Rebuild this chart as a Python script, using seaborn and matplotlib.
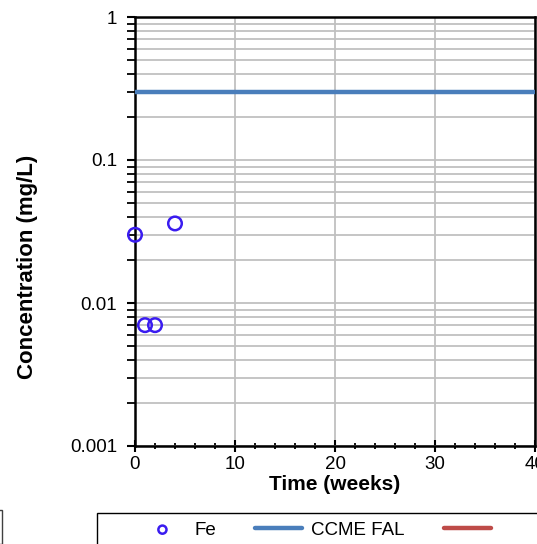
import matplotlib
matplotlib.use('Agg')
import matplotlib.pyplot as plt
import matplotlib.ticker as mticker
from matplotlib.patches import Rectangle
import numpy as np
import pandas as pd
import seaborn as sns

# data
fe_weeks = [0, 1, 2, 4]
fe_conc = [0.030, 0.007, 0.007, 0.036]
fal_weeks = [0, 40]
fal_conc = [0.3, 0.3]

sns.set_style('white')
plt.rcParams['font.family'] = ['Liberation Sans', 'DejaVu Sans']
plt.rcParams.update({'text.color': 'black', 'axes.labelcolor': 'black',
                     'xtick.color': 'black', 'ytick.color': 'black'})

fig = plt.figure(figsize=(5.37, 5.44), dpi=100)
ax = fig.add_axes([135 / 537, 1 - 446 / 544, 400 / 537, 429 / 544])

fe_df = pd.DataFrame({'week': fe_weeks, 'conc': fe_conc})
fal_df = pd.DataFrame({'week': fal_weeks, 'conc': fal_conc})

sns.lineplot(data=fal_df, x='week', y='conc', ax=ax, color='#4a7ebb', linewidth=3.2,
             label='CCME FAL', zorder=3)
sns.scatterplot(data=fe_df, x='week', y='conc', ax=ax, marker='o', s=95,
                facecolor='none', edgecolor='#3a1cf0', linewidth=1.8, label='Fe',
                zorder=4, clip_on=False)
ax.plot([], [], color='#be4b48', linewidth=3.2, label=' ')

ax.set_yscale('log')
ax.set_ylim(0.001, 1)
ax.set_xlim(0, 40)
ax.xaxis.set_major_locator(mticker.MultipleLocator(10))
ax.xaxis.set_minor_locator(mticker.MultipleLocator(2))
ax.yaxis.set_major_locator(mticker.LogLocator(base=10))
ax.yaxis.set_minor_locator(mticker.LogLocator(base=10, subs=np.arange(2, 10)))
ax.yaxis.set_major_formatter(mticker.FuncFormatter(lambda v, p: f'{v:g}'))
ax.yaxis.set_minor_formatter(mticker.NullFormatter())

ax.grid(True, which='major', color='#c0c0c0', linewidth=1.3)
ax.grid(True, which='minor', axis='y', color='#c0c0c0', linewidth=1.3)
ax.set_axisbelow(True)

for s in ax.spines.values():
    s.set_color('black')
    s.set_linewidth(1.8)

ax.tick_params(axis='x', which='major', direction='inout', length=8, width=1.5,
               labelsize=13.5, bottom=True, pad=3)
ax.tick_params(axis='x', which='minor', direction='inout', length=5, width=1.3, bottom=True)
ax.tick_params(axis='y', which='major', direction='out', length=6, width=1.5,
               labelsize=13.5, left=True, pad=7)
ax.tick_params(axis='y', which='minor', direction='out', length=6, width=1.3, left=True)

ax.set_xlabel('Time (weeks)', fontsize=15, fontweight='bold', labelpad=2)
ax.set_ylabel('Concentration (mg/L)', fontsize=16, fontweight='bold')
ax.yaxis.set_label_coords(-0.242, 0.417)

h, l = ax.get_legend_handles_labels()
order = [l.index('Fe'), l.index('CCME FAL'), l.index(' ')]
ax.get_legend().remove()
leg = fig.legend([h[i] for i in order], [l[i] for i in order], ncol=3,
                 loc='center left', bbox_to_anchor=(139 / 537, 1 - 530 / 544),
                 frameon=False, fontsize=13.5, markerscale=0.6,
                 handlelength=2.5, columnspacing=2.1, borderpad=0,
                 handletextpad=0.45, borderaxespad=0)

# legend frame, running off the right and bottom edges
fig.patches.append(Rectangle((97 / 537, -0.1), 0.9, 0.1 + 1 - 513 / 544,
                             transform=fig.transFigure, fill=False,
                             edgecolor='black', linewidth=1.0))
# edge of a second box at the far left
fig.patches.append(Rectangle((-0.2, 0), 0.2 + 1.5 / 537, 1 - 510 / 544,
                             transform=fig.transFigure, fill=False,
                             edgecolor='#404040', linewidth=1.0))

fig.savefig('out.png', dpi=100)
